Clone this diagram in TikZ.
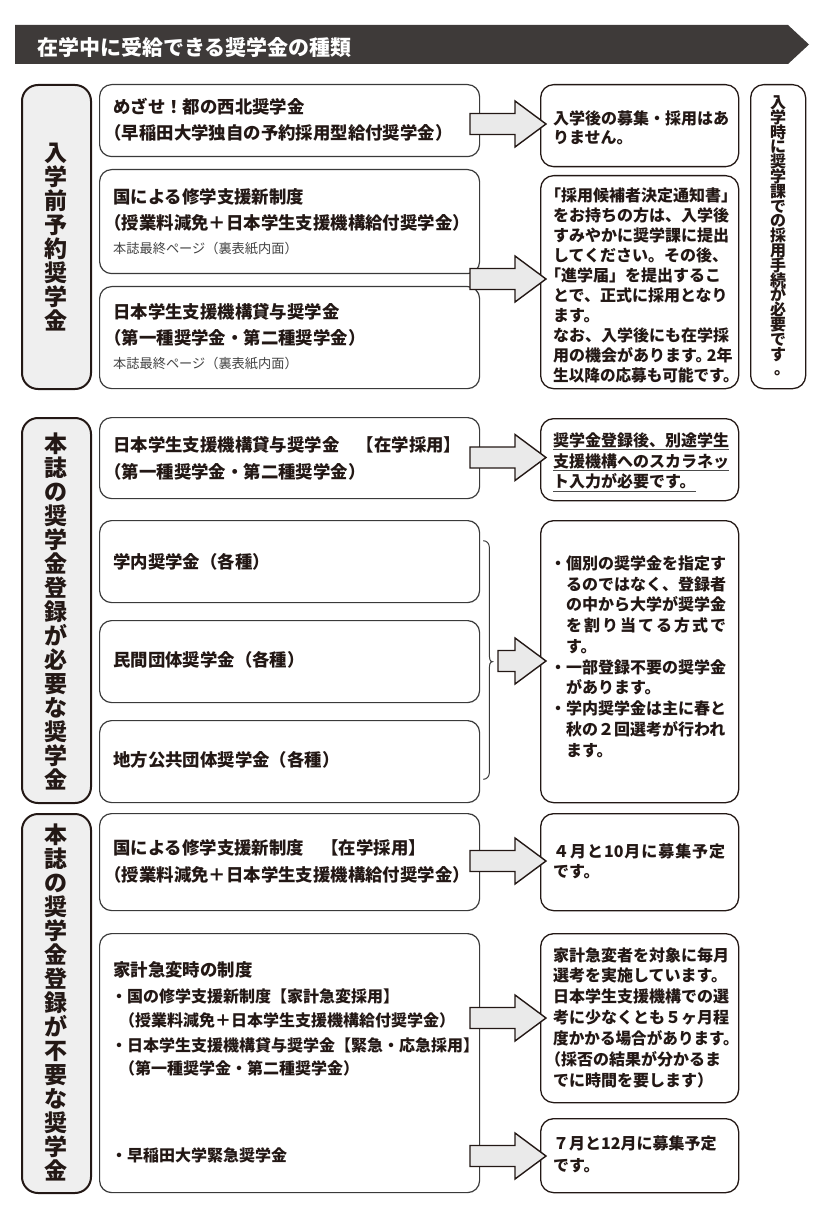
\documentclass[tikz,border=0pt]{standalone}
\usepackage{fontspec}
\setmainfont{Noto Sans CJK JP}
\usepackage{graphicx}
\definecolor{ink}{HTML}{231815}
\definecolor{bar}{HTML}{3E3A39}
\definecolor{lblfill}{HTML}{EFEFEF}
\definecolor{arrfill}{HTML}{EAEAEA}
\definecolor{edge}{HTML}{3A3A3A}
\definecolor{smallgray}{HTML}{444444}
\newcommand\kp{\hspace*{-0.5em}}
\newcommand\tightlines{\lineskiplimit=-30pt\relax}
\def\spreadA#1{#1\spreadB}
\def\spreadB#1{\ifx#1\relax\else\hfil#1\expandafter\spreadB\fi}
\newcommand\spreadto[2]{\hbox to #1{\spreadA#2\relax}}
\newcommand\sq[1]{\scalebox{0.975}[1]{#1}}
\newcommand\bx[6]{\node[#1, anchor=north west, minimum width={(#5)-(#3)}, minimum height={(#6)-(#4)}] (#2) at (#3,#4) {};}
\newcommand\tx[5]{\node[#1] (#2) at (#3,#4) {#5};}
\newcommand\barrow[2]{\filldraw[blockarrow] (#1,#2-10.5) -- (515,#2-10.5) -- (515,#2-23) -- (546,#2) -- (515,#2+23) -- (515,#2+10.5) -- (#1,#2+10.5) -- cycle;}
\tikzset{
  midbox/.style={draw=edge, line width=1.2pt, rounded corners=12pt, fill=white, inner sep=0pt},
  rbox/.style={draw=ink, line width=1.3pt, rounded corners=13pt, fill=white, inner sep=0pt},
  lbox/.style={draw=ink, line width=2pt, rounded corners=16pt, fill=lblfill, inner sep=0pt},
  blockarrow/.style={fill=arrfill, draw=ink, line width=1.4pt, line join=miter},
  t17/.style={font=\fontsize{17.4}{20}\selectfont\bfseries, text=ink, inner sep=0pt, anchor=base west, yshift=-6.6pt},
  t16/.style={font=\fontsize{16}{19}\selectfont\bfseries, text=ink, inner sep=0pt, anchor=base west, yshift=-6.1pt},
  tsm/.style={font=\fontsize{13.2}{15}\selectfont, text=smallgray, inner sep=0pt, anchor=base west, yshift=-5pt},
  vlab/.style={font=\fontsize{23}{24}\selectfont\bfseries\tightlines, text=ink, align=center, inner sep=0pt},
  vlabs/.style={font=\fontsize{16}{14.8}\selectfont\bfseries\tightlines, text=ink, align=center, inner sep=0pt},
  ul/.style={draw=gray!60!black, line width=0.8pt},
  bracesty/.style={draw=edge, line width=1pt}
}
\begin{document}
\begin{tikzpicture}[x=1pt, y=-1pt]
\useasboundingbox (0,0) rectangle (834,1222);
% header
\fill[bar] (15,25) -- (788,25) -- (809,44.5) -- (788,64) -- (15,64) -- cycle;
\node[font=\fontsize{21}{24}\selectfont\bfseries, text=white, anchor=base west, inner sep=0pt, yshift=-8pt] (hd) at (37,47.5) {在学中に受給できる奨学金の種類};
% ---------- section 1
\bx{lbox}{L1}{21}{84}{90}{388}
\bx{midbox}{A1}{99}{84}{479}{156}
\bx{midbox}{A2}{99}{169}{479}{273}
\bx{midbox}{A3}{99}{286}{479}{388}
\bx{rbox}{R1}{540}{84}{738}{166}
\bx{rbox}{R2}{540}{175}{738}{388}
\bx{rbox}{V1}{750}{84}{805}{388}
% ---------- section 2
\bx{lbox}{L2}{21}{417}{90}{802}
\bx{midbox}{B1}{99}{417}{479}{498}
\bx{midbox}{B2}{99}{520}{479}{602}
\bx{midbox}{B3}{99}{620}{479}{702}
\bx{midbox}{B4}{99}{720}{479}{802}
\bx{rbox}{RB1}{540}{418}{738}{500}
\bx{rbox}{RB2}{540}{520}{738}{802}
% ---------- section 3
\bx{lbox}{L3}{21}{813}{90}{1192}
\bx{midbox}{C1}{99}{813}{479}{910}
\bx{midbox}{C2}{99}{933}{479}{1192}
\bx{rbox}{RC1}{540}{813}{738}{910}
\bx{rbox}{RC2}{540}{933}{738}{1102}
\bx{rbox}{RC3}{540}{1118}{738}{1192}
% brace
\draw[bracesty] (483.3,540.7) to[out=0,in=90] (489.3,547) -- (489.3,655.5) to[out=-90,in=180] (492.5,661.7) to[out=180,in=90] (489.3,668) -- (489.3,773) to[out=-90,in=0] (483.3,779.3);
% block arrows
\barrow{470}{124}
\barrow{470}{279}
\barrow{470}{457.5}
\barrow{498}{661}
\barrow{470}{861}
\barrow{470}{1018}
\barrow{470}{1156}
% vertical labels
\node[vlab] (L1t) at (56,237) {入\\学\\前\\予\\約\\奨\\学\\金};
\node[vlab] (L2t) at (56,611) {本\\誌\\の\\奨\\学\\金\\登\\録\\が\\必\\要\\な\\奨\\学\\金};
\node[vlab] (L3t) at (56,1002.5) {本\\誌\\の\\奨\\学\\金\\登\\録\\が\\不\\要\\な\\奨\\学\\金};
\node[vlabs] (V1t) at (778,236) {入\\学\\時\\に\\奨\\学\\課\\で\\の\\採\\用\\手\\続\\が\\必\\要\\で\\す\\\hspace*{0.5em}。};
% section 1 texts
\tx{t17}{a1a}{113}{107}{めざせ！都の西北奨学金}
\tx{t17}{a1b}{113}{133.3}{\kp（早稲田大学独自の予約採用型給付奨学金）}
\tx{t17}{a2a}{113}{196.7}{国による修学支援新制度}
\tx{t17}{a2b}{113}{223.3}{\kp（授業料減免＋日本学生支援機構給付奨学金）}
\tx{tsm}{a2c}{113}{248.3}{本誌最終ページ（裏表紙内面）}
\tx{t17}{a3a}{113}{311.7}{日本学生支援機構貸与奨学金}
\tx{t17}{a3b}{113}{338.3}{\kp（第一種奨学金・第二種奨学金）}
\tx{tsm}{a3c}{113}{363.3}{本誌最終ページ（裏表紙内面）}
\tx{t16}{r1a}{553}{118}{入学後の募集・採用はあ}
\tx{t16}{r1b}{553}{137.5}{りません。}
\tx{t16}{r2a}{553}{195}{\kp「採用候補者決定通知書」}
\tx{t16}{r2b}{553}{215}{をお持ちの方は、入学後}
\tx{t16}{r2c}{553}{235}{すみやかに奨学課に提出}
\tx{t16}{r2d}{553}{255}{してください。その後、}
\tx{t16}{r2e}{553}{275}{\kp「進学届」を提出するこ}
\tx{t16}{r2f}{553}{295}{とで、正式に採用となり}
\tx{t16}{r2g}{553}{315}{ます。}
\tx{t16}{r2h}{553}{335}{なお、入学後にも在学採}
\tx{t16}{r2i}{553}{355}{用の機会があります。\hspace{-0.3em}2年}
\tx{t16}{r2j}{553}{375}{\sq{生以降の応募も可能です。}}
% section 2 texts
\tx{t17}{b1a}{113}{445}{日本学生支援機構貸与奨学金　【在学採用】}
\tx{t17}{b1b}{113}{471.7}{\kp（第一種奨学金・第二種奨学金）}
\tx{t17}{b2a}{113}{561.7}{学内奨学金（各種）}
\tx{t17}{b3a}{113}{660}{民間団体奨学金（各種）}
\tx{t17}{b4a}{113}{760}{地方公共団体奨学金（各種）}
\tx{t16}{rb1a}{553}{440}{奨学金登録後、別途学生}
\tx{t16}{rb1b}{553}{461}{支援機構へのスカラネッ}
\tx{t16}{rb1c}{553}{481.7}{ト入力が必要です。}
\draw[ul] ([yshift=-3.4pt]rb1a.base west) -- ([yshift=-3.4pt]rb1a.base east);
\draw[ul] ([yshift=-3.4pt]rb1b.base west) -- ([yshift=-3.4pt]rb1b.base east);
\draw[ul] ([yshift=-3.4pt]rb1c.base west) -- ([yshift=-3.4pt]rb1c.base east);
\tx{t16}{rb2a}{550}{563.3}{・個別の奨学金を指定す}
\tx{t16}{rb2b}{566}{584.0}{るのではなく、登録者}
\tx{t16}{rb2c}{566}{604.8}{の中から大学が奨学金}
\tx{t16}{rb2d}{566}{625.5}{\spreadto{160pt}{を割り当てる方式で}}
\tx{t16}{rb2e}{566}{646.3}{す。}
\tx{t16}{rb2f}{550}{667.0}{・一部登録不要の奨学金}
\tx{t16}{rb2g}{566}{687.7}{があります。}
\tx{t16}{rb2h}{550}{708.5}{・学内奨学金は主に春と}
\tx{t16}{rb2i}{566}{729.2}{秋の２回選考が行われ}
\tx{t16}{rb2j}{566}{750}{ます。}
% section 3 texts
\tx{t17}{c1a}{113}{848.3}{国による修学支援新制度　【在学採用】}
\tx{t17}{c1b}{113}{875}{\kp（授業料減免＋日本学生支援機構給付奨学金）}
\tx{t17}{c2a}{113}{970}{家計急変時の制度}
\tx{t16}{c2b}{111}{996.7}{・国の修学支援新制度【家計急変採用】}
\tx{t16}{c2c}{119}{1020}{（授業料減免＋日本学生支援機構給付奨学金）}
\tx{t16}{c2d}{111}{1045}{・日本学生支援機構貸与奨学金【緊急・応急採用】}
\tx{t16}{c2e}{119}{1068.3}{（第一種奨学金・第二種奨学金）}
\tx{t16}{c2f}{111}{1155}{・早稲田大学緊急奨学金}
\tx{t16}{rc1a}{553}{851.7}{\spreadto{172pt}{４月と{10}月に募集予定}}
\tx{t16}{rc1b}{553}{871.7}{です。}
\tx{t16}{rc2a}{553}{955}{家計急変者を対象に毎月}
\tx{t16}{rc2b}{553}{975.8}{選考を実施しています。}
\tx{t16}{rc2c}{553}{996.7}{日本学生支援機構での選}
\tx{t16}{rc2d}{553}{1017.5}{考に少なくとも５ヶ月程}
\tx{t16}{rc2e}{553}{1038.3}{\sq{度かかる場合があります。}}
\tx{t16}{rc2f}{553}{1059.2}{\kp（採否の結果が分かるま}
\tx{t16}{rc2g}{553}{1080}{でに時間を要します）}
\tx{t16}{rc3a}{553}{1143.3}{７月と12月に募集予定}
\tx{t16}{rc3b}{553}{1165.5}{です。}
\end{tikzpicture}
\end{document}
